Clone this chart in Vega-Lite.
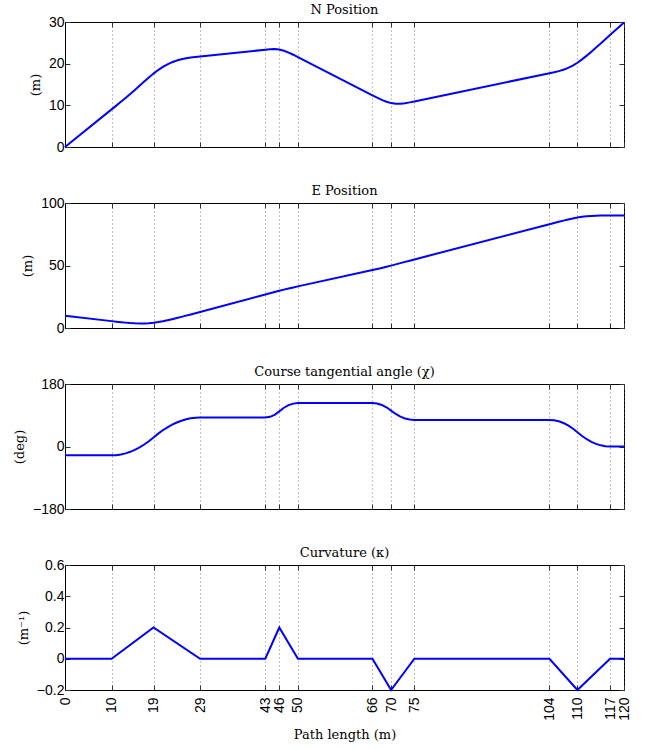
{
  "$schema": "https://vega.github.io/schema/vega-lite/v6.json",
  "background": "white",
  "padding": {"left": 12, "top": 3, "right": 5, "bottom": 5},
  "datasets": {
    "path": [
      {"s": 0, "N": 0, "E": 9.81, "chi": -25.5},
      {"s": 10, "N": 9.026, "E": 5.5, "chi": -25.5},
      {"s": 11, "N": 9.93, "E": 5.072, "chi": -24.86},
      {"s": 12, "N": 10.843, "E": 4.664, "chi": -22.95},
      {"s": 13, "N": 11.773, "E": 4.297, "chi": -19.77},
      {"s": 14, "N": 12.726, "E": 3.993, "chi": -15.31},
      {"s": 15, "N": 13.702, "E": 3.775, "chi": -9.58},
      {"s": 16, "N": 14.696, "E": 3.666, "chi": -2.58},
      {"s": 17, "N": 15.696, "E": 3.691, "chi": 5.7},
      {"s": 18, "N": 16.68, "E": 3.87, "chi": 15.25},
      {"s": 19, "N": 17.616, "E": 4.22, "chi": 26.07},
      {"s": 20, "N": 18.467, "E": 4.745, "chi": 36.96},
      {"s": 21, "N": 19.211, "E": 5.413, "chi": 46.71},
      {"s": 22, "N": 19.838, "E": 6.192, "chi": 55.3},
      {"s": 23, "N": 20.351, "E": 7.051, "chi": 62.75},
      {"s": 24, "N": 20.757, "E": 7.965, "chi": 69.06},
      {"s": 25, "N": 21.07, "E": 8.915, "chi": 74.21},
      {"s": 26, "N": 21.306, "E": 9.887, "chi": 78.22},
      {"s": 27, "N": 21.484, "E": 10.871, "chi": 81.09},
      {"s": 28, "N": 21.622, "E": 11.861, "chi": 82.81},
      {"s": 29, "N": 21.74, "E": 12.854, "chi": 83.4},
      {"s": 43, "N": 23.349, "E": 26.762, "chi": 83.4},
      {"s": 44, "N": 23.455, "E": 27.756, "chi": 85.38},
      {"s": 45, "N": 23.492, "E": 28.755, "chi": 91.32},
      {"s": 46, "N": 23.392, "E": 29.75, "chi": 101.22},
      {"s": 47, "N": 23.103, "E": 30.707, "chi": 111.62},
      {"s": 48, "N": 22.669, "E": 31.608, "chi": 119.05},
      {"s": 49, "N": 22.144, "E": 32.459, "chi": 123.51},
      {"s": 50, "N": 21.576, "E": 33.282, "chi": 125},
      {"s": 66, "N": 12.399, "E": 46.389, "chi": 125},
      {"s": 67, "N": 11.83, "E": 47.212, "chi": 123.65},
      {"s": 68, "N": 11.301, "E": 48.06, "chi": 119.61},
      {"s": 69, "N": 10.854, "E": 48.954, "chi": 112.88},
      {"s": 70, "N": 10.537, "E": 49.902, "chi": 103.45},
      {"s": 71, "N": 10.392, "E": 50.892, "chi": 93.75},
      {"s": 72, "N": 10.397, "E": 51.892, "chi": 86.2},
      {"s": 73, "N": 10.515, "E": 52.885, "chi": 80.81},
      {"s": 74, "N": 10.707, "E": 53.866, "chi": 77.58},
      {"s": 75, "N": 10.936, "E": 54.84, "chi": 76.5},
      {"s": 104, "N": 17.705, "E": 83.04, "chi": 76.5},
      {"s": 105, "N": 17.943, "E": 84.011, "chi": 75.52},
      {"s": 106, "N": 18.213, "E": 84.974, "chi": 72.58},
      {"s": 107, "N": 18.549, "E": 85.916, "chi": 67.67},
      {"s": 108, "N": 18.98, "E": 86.818, "chi": 60.81},
      {"s": 109, "N": 19.53, "E": 87.654, "chi": 51.98},
      {"s": 110, "N": 20.214, "E": 88.383, "chi": 41.19},
      {"s": 111, "N": 21.028, "E": 88.964, "chi": 30.26},
      {"s": 112, "N": 21.931, "E": 89.393, "chi": 21.02},
      {"s": 113, "N": 22.887, "E": 89.686, "chi": 13.45},
      {"s": 114, "N": 23.871, "E": 89.865, "chi": 7.57},
      {"s": 115, "N": 24.867, "E": 89.956, "chi": 3.36},
      {"s": 116, "N": 25.866, "E": 89.989, "chi": 0.84},
      {"s": 117, "N": 26.866, "E": 89.993, "chi": 0},
      {"s": 120, "N": 29.9, "E": 89.993, "chi": 0}
    ],
    "kappa": [
      {"s": 0, "k": 0}, {"s": 10, "k": 0}, {"s": 19, "k": 0.2}, {"s": 29, "k": 0},
      {"s": 43, "k": 0}, {"s": 46, "k": 0.2}, {"s": 50, "k": 0}, {"s": 66, "k": 0},
      {"s": 70, "k": -0.2}, {"s": 75, "k": 0}, {"s": 104, "k": 0}, {"s": 110, "k": -0.2},
      {"s": 117, "k": 0}, {"s": 120, "k": 0}
    ]
  },
  "bounds": "flush",
  "spacing": 56,
  "vconcat": [
    {
      "title": "N Position",
      "width": 559, "height": 125,
      "data": {"name": "path"},
      "resolve": {"axis": {"x": "independent", "y": "independent"}},
      "layer": [
        {
          "mark": {"type": "line", "color": "#0000ff", "strokeWidth": 2},
          "encoding": {
            "x": {"field": "s", "type": "quantitative", "scale": {"domain": [0, 120], "nice": false},
                  "axis": {"values": [0,10,19,29,43,46,50,66,70,75,104,110,117,120], "labels": false, "title": null, "grid": true}},
            "y": {"field": "N", "type": "quantitative", "scale": {"domain": [0, 30], "nice": false},
                  "axis": {"values": [0,10,20,30], "title": "(m)", "grid": false}}
          }
        },
        {
          "mark": {"type": "line", "opacity": 0},
          "encoding": {
            "x": {"field": "s", "type": "quantitative",
                  "axis": {"orient": "top", "values": [0,10,19,29,43,46,50,66,70,75,104,110,117,120], "labels": false, "title": null, "grid": false, "domain": false}},
            "y": {"field": "N", "type": "quantitative",
                  "axis": {"orient": "right", "values": [0,10,20,30], "labels": false, "title": null, "grid": false, "domain": false}}
          }
        }
      ]
    },
    {
      "title": "E Position",
      "width": 559, "height": 125,
      "data": {"name": "path"},
      "resolve": {"axis": {"x": "independent", "y": "independent"}},
      "layer": [
        {
          "mark": {"type": "line", "color": "#0000ff", "strokeWidth": 2},
          "encoding": {
            "x": {"field": "s", "type": "quantitative", "scale": {"domain": [0, 120], "nice": false},
                  "axis": {"values": [0,10,19,29,43,46,50,66,70,75,104,110,117,120], "labels": false, "title": null, "grid": true}},
            "y": {"field": "E", "type": "quantitative", "scale": {"domain": [0, 100], "nice": false},
                  "axis": {"values": [0,50,100], "title": "(m)", "grid": false}}
          }
        },
        {
          "mark": {"type": "line", "opacity": 0},
          "encoding": {
            "x": {"field": "s", "type": "quantitative",
                  "axis": {"orient": "top", "values": [0,10,19,29,43,46,50,66,70,75,104,110,117,120], "labels": false, "title": null, "grid": false, "domain": false}},
            "y": {"field": "E", "type": "quantitative",
                  "axis": {"orient": "right", "values": [0,50,100], "labels": false, "title": null, "grid": false, "domain": false}}
          }
        }
      ]
    },
    {
      "title": "Course tangential angle (χ)",
      "width": 559, "height": 125,
      "data": {"name": "path"},
      "resolve": {"axis": {"x": "independent", "y": "independent"}},
      "layer": [
        {
          "mark": {"type": "line", "color": "#0000ff", "strokeWidth": 2},
          "encoding": {
            "x": {"field": "s", "type": "quantitative", "scale": {"domain": [0, 120], "nice": false},
                  "axis": {"values": [0,10,19,29,43,46,50,66,70,75,104,110,117,120], "labels": false, "title": null, "grid": true}},
            "y": {"field": "chi", "type": "quantitative", "scale": {"domain": [-180, 180], "nice": false},
                  "axis": {"values": [-180,0,180], "title": "(deg)", "grid": false}}
          }
        },
        {
          "mark": {"type": "line", "opacity": 0},
          "encoding": {
            "x": {"field": "s", "type": "quantitative",
                  "axis": {"orient": "top", "values": [0,10,19,29,43,46,50,66,70,75,104,110,117,120], "labels": false, "title": null, "grid": false, "domain": false}},
            "y": {"field": "chi", "type": "quantitative",
                  "axis": {"orient": "right", "values": [-180,0,180], "labels": false, "title": null, "grid": false, "domain": false}}
          }
        }
      ]
    },
    {
      "title": "Curvature (κ)",
      "width": 559, "height": 125,
      "data": {"name": "kappa"},
      "resolve": {"axis": {"x": "independent", "y": "independent"}},
      "layer": [
        {
          "mark": {"type": "line", "color": "#0000ff", "strokeWidth": 2},
          "encoding": {
            "x": {"field": "s", "type": "quantitative", "scale": {"domain": [0, 120], "nice": false},
                  "axis": {"values": [0,10,19,29,43,46,50,66,70,75,104,110,117,120], "labelAngle": 270, "labelPadding": 12, "labelOverlap": false, "labelFlush": false, "labelBound": false, "title": "Path length (m)", "titlePadding": 8, "grid": true}},
            "y": {"field": "k", "type": "quantitative", "scale": {"domain": [-0.2, 0.6], "nice": false},
                  "axis": {"values": [-0.2,0,0.2,0.4,0.6], "format": "~g", "title": "(m⁻¹)", "grid": false}}
          }
        },
        {
          "mark": {"type": "line", "opacity": 0},
          "encoding": {
            "x": {"field": "s", "type": "quantitative",
                  "axis": {"orient": "top", "values": [0,10,19,29,43,46,50,66,70,75,104,110,117,120], "labels": false, "title": null, "grid": false, "domain": false}},
            "y": {"field": "k", "type": "quantitative",
                  "axis": {"orient": "right", "values": [-0.2,0,0.2,0.4,0.6], "labels": false, "title": null, "grid": false, "domain": false}}
          }
        }
      ]
    }
  ],
  "config": {
    "view": {"stroke": "black", "strokeWidth": 1},
    "axis": {
      "domainColor": "black",
      "tickColor": "#333",
      "tickSize": -5,
      "labelPadding": 6,
      "labelFont": "Liberation Sans",
      "labelFontSize": 14,
      "labelColor": "black",
      "titleFont": "DejaVu Serif",
      "titleFontSize": 13,
      "titleFontWeight": "normal",
      "titleColor": "black",
      "titlePadding": 6,
      "gridColor": "#666",
      "gridDash": [1, 3],
      "gridWidth": 0.8
    },
    "title": {"font": "DejaVu Serif", "fontSize": 13, "fontWeight": "normal", "color": "black", "offset": -2}
  }
}
